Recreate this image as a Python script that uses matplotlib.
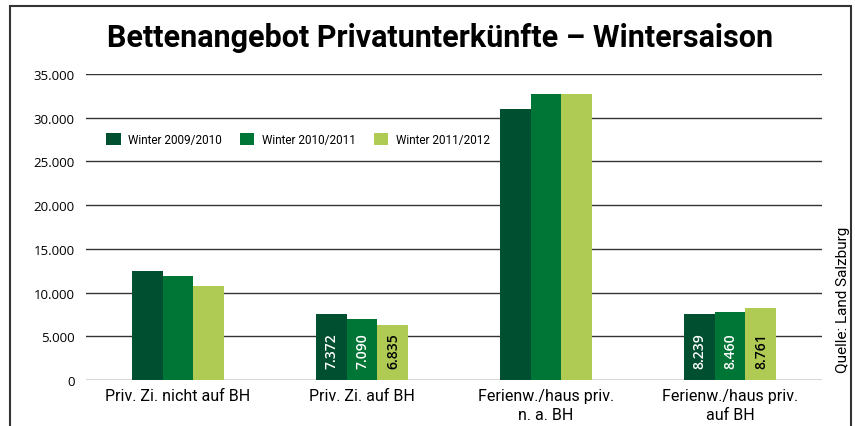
import matplotlib.pyplot as plt
import numpy as np
from matplotlib.patches import Rectangle

categories = ["Priv. Zi. nicht auf BH", "Priv. Zi. auf BH",
              "Ferienw./haus priv.\nn. a. BH", "Ferienw./haus priv.\nauf BH"]
series = ["Winter 2009/2010", "Winter 2010/2011", "Winter 2011/2012"]
w0910 = [12450, 7550, 31000, 7550]
w1011 = [11900, 6980, 32720, 7750]
w1112 = [10750, 6330, 32720, 8240]
# labels as printed inside the bars (only groups 2 and 4)
labels0910 = ["", "7.372", "", "8.239"]
labels1011 = ["", "7.090", "", "8.460"]
labels1112 = ["", "6.835", "", "8.761"]
yticks = [0, 5000, 10000, 15000, 20000, 25000, 30000, 35000]
ytick_labels = ["0", "5.000", "10.000", "15.000", "20.000", "25.000", "30.000", "35.000"]

colors = ["#004f30", "#007636", "#b0cb54"]
text_colors = ["white", "white", "black"]
narrow = ["Roboto", "DejaVu Sans"]

fig = plt.figure(figsize=(8.55, 4.27), dpi=100)
ax = fig.add_axes([0.1006, 0.1077, 0.8608, 0.7167])

x = np.arange(len(categories))
bw = 0.168
values = [w0910, w1011, w1112]
labels = [labels0910, labels1011, labels1112]
for i, (vals, labs) in enumerate(zip(values, labels)):
    xs = x + (i - 1) * bw
    ax.bar(xs, vals, width=bw, color=colors[i], label=series[i], zorder=3)
    for xi, lab in zip(xs, labs):
        if lab:
            ax.text(xi, 3450, lab, rotation=90, ha="center", va="center",
                    color=text_colors[i], fontsize=10, fontweight="semibold",
                    family="Open Sans", zorder=4)

ax.set_xlim(-0.5, 3.5)
ax.set_ylim(0, 35000)
ax.set_yticks(yticks)
ax.set_yticklabels(ytick_labels, family="Open Sans", fontsize=9.5)
ax.set_xticks(x)
ax.set_xticklabels(categories, family=narrow, fontsize=11.5, linespacing=1.3)
ax.tick_params(length=0, pad=8)
ax.tick_params(axis="x", pad=6)
ax.grid(axis="y", color="#333333", linewidth=1, zorder=0)
for s in ax.spines.values():
    s.set_visible(False)

fig.legend(loc="center left", bbox_to_anchor=(0.112, 0.672), ncol=3,
           frameon=False, handlelength=1.2, handleheight=1.2,
           columnspacing=1.6, handletextpad=0.6,
           prop={"family": narrow, "size": 8.5})

fig.text(0.515, 0.91, "Bettenangebot Privatunterkünfte – Wintersaison",
         ha="center", va="center", fontsize=22, fontweight="bold", family=narrow)
fig.text(0.986, 0.297, "Quelle: Land Salzburg", rotation=90,
         ha="center", va="center", fontsize=11, family=narrow)

fig.patches.append(Rectangle((0.012, -0.05), 0.983, 1.034, transform=fig.transFigure,
                             fill=False, edgecolor="#333333", linewidth=1.5))

fig.savefig("out.png", dpi=100)
